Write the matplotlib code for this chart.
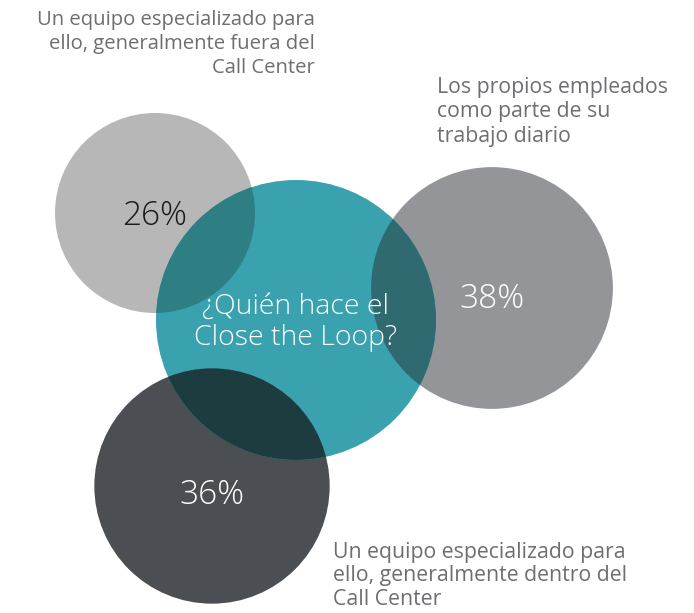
import matplotlib.pyplot as plt
from matplotlib.patches import Circle
import numpy as np

plt.rcParams['font.family'] = ['Open Sans', 'DejaVu Sans']

# datos
valores = [26, 38, 36]
etiquetas_pct = ['26%', '38%', '36%']
descripciones = [
    'Un equipo especializado para\nello, generalmente fuera del\nCall Center',
    'Los propios empleados\ncomo parte de su\ntrabajo diario',
    'Un equipo especializado para\nello, generalmente dentro del\nCall Center',
]
pregunta = '¿Quién hace el\nClose the Loop?'

colores = ['#b7b7b8', '#939598', '#4b4e53']
colores_cruce = ['#2e7f84', '#2e6a70', '#1c3c40']
color_pct = ['#1a1a1a', 'white', 'white']
teal = '#3aa1ae'

# posiciones (pixeles)
centros = [(155, 213), (492, 288), (212, 486)]
centro_teal = (296, 320)
r_teal = 140
escala = 100 / np.sqrt(26)  # area proporcional al valor

fig = plt.figure(figsize=(6.94, 6.13), dpi=100)
ax = fig.add_axes([0, 0, 1, 1])
ax.set_xlim(0, 694)
ax.set_ylim(613, 0)
ax.set_aspect('equal')
ax.axis('off')

for i in range(len(valores)):
    r = escala * np.sqrt(valores[i])
    ax.add_patch(Circle(centros[i], r, facecolor=colores[i], edgecolor='none', zorder=1))

ax.add_patch(Circle(centro_teal, r_teal, facecolor=teal, edgecolor='none', zorder=2))

# cruces con el circulo central
for i in range(len(valores)):
    r = escala * np.sqrt(valores[i])
    clip = Circle(centro_teal, r_teal, transform=ax.transData)
    c = Circle(centros[i], r, facecolor=colores_cruce[i], edgecolor='none', zorder=3)
    ax.add_patch(c)
    c.set_clip_path(clip)

desplaz = [3, 11, 9]
for i in range(len(valores)):
    ax.text(centros[i][0], centros[i][1] + desplaz[i], etiquetas_pct[i], color=color_pct[i],
            fontsize=24, fontweight='light', ha='center', va='center', zorder=5)

ax.text(centro_teal[0], centro_teal[1] + 2, pregunta, color='white', fontsize=20.5,
        fontweight='light', ha='center', va='center', linespacing=1.15, zorder=5)

gris_txt = '#6d6e71'
ax.text(315, 44, descripciones[0], color=gris_txt, fontsize=14.6, ha='right', va='center',
        linespacing=1.25)
ax.text(437, 112, descripciones[1], color=gris_txt, fontsize=15.3, ha='left', va='center',
        linespacing=1.2)
ax.text(333, 576, descripciones[2], color=gris_txt, fontsize=15.3, ha='left', va='center',
        linespacing=1.15)

fig.savefig('out.png', dpi=100)
plt.close()
